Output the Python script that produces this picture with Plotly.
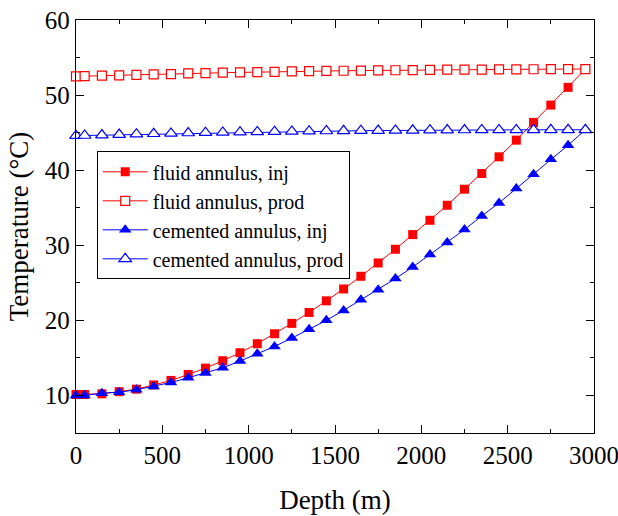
import plotly.graph_objects as go

depth = [0, 50, 150, 250, 350, 450, 550, 650, 750, 850, 950, 1050, 1150, 1250,
         1350, 1450, 1550, 1650, 1750, 1850, 1950, 2050, 2150, 2250, 2350, 2450,
         2550, 2650, 2750, 2850, 2950]

fluid_inj = [10.13, 10.13, 10.22, 10.5, 10.84, 11.4, 12.0, 12.8, 13.64, 14.62,
             15.69, 16.89, 18.22, 19.6, 21.05, 22.6, 24.18, 25.87, 27.64, 29.47,
             31.42, 33.33, 35.33, 37.47, 39.56, 41.78, 44.0, 46.36, 48.67, 51.03,
             53.47]
fluid_prod = [52.49, 52.53, 52.58, 52.62, 52.7, 52.76, 52.8, 52.88, 52.93, 52.98,
              53.02, 53.07, 53.1, 53.15, 53.2, 53.22, 53.24, 53.26, 53.29, 53.31,
              53.33, 53.35, 53.38, 53.39, 53.4, 53.42, 53.43, 53.44, 53.45, 53.46,
              53.47]
cem_inj = [10.0, 10.0, 10.31, 10.44, 10.76, 11.2, 11.73, 12.36, 12.98, 13.69,
           14.58, 15.56, 16.53, 17.64, 18.8, 20.0, 21.33, 22.76, 24.09, 25.56,
           27.11, 28.76, 30.36, 32.09, 33.91, 35.64, 37.56, 39.47, 41.47, 43.33,
           45.38]
cem_prod = [44.6, 44.62, 44.68, 44.74, 44.8, 44.85, 44.9, 44.95, 44.99, 45.03,
            45.07, 45.1, 45.13, 45.16, 45.19, 45.22, 45.24, 45.26, 45.28, 45.3,
            45.31, 45.33, 45.34, 45.35, 45.36, 45.37, 45.37, 45.38, 45.38, 45.38,
            45.38]

RED = "#ff0000"
BLUE = "#0000ff"
FONT = "'Liberation Serif', Tinos, 'Times New Roman', Times, 'DejaVu Serif', serif"

fig = go.Figure()
fig.add_trace(go.Scatter(x=depth, y=fluid_inj, name="fluid annulus, inj",
                         mode="lines+markers", line=dict(color=RED, width=1),
                         marker=dict(symbol="square", size=9, color=RED),
                         cliponaxis=False))
fig.add_trace(go.Scatter(x=depth, y=fluid_prod, name="fluid annulus, prod",
                         mode="lines+markers", line=dict(color=RED, width=1),
                         marker=dict(symbol="square", size=9, color="white",
                                     line=dict(color=RED, width=1.2)),
                         cliponaxis=False))
fig.add_trace(go.Scatter(x=depth, y=cem_inj, name="cemented annulus, inj",
                         mode="lines+markers", line=dict(color=BLUE, width=1),
                         marker=dict(symbol="triangle-up", size=11, color=BLUE),
                         cliponaxis=False))
fig.add_trace(go.Scatter(x=depth, y=cem_prod, name="cemented annulus, prod",
                         mode="lines+markers", line=dict(color=BLUE, width=1),
                         marker=dict(symbol="triangle-up", size=11, color="white",
                                     line=dict(color=BLUE, width=1.2)),
                         cliponaxis=False))

axis_common = dict(showgrid=False, zeroline=False, showline=True, linecolor="black",
                   linewidth=1.3, mirror="ticks", ticks="inside", ticklen=8,
                   tickwidth=1, tickcolor="black", automargin=False,
                   ticklabeloverflow="allow",
                   tickfont=dict(family=FONT, size=25, color="black"))

fig.update_xaxes(range=[0, 3000], tickvals=[0, 500, 1000, 1500, 2000, 2500, 3000],
                 minor=dict(ticks="inside", ticklen=4, dtick=250, tick0=0,
                            tickcolor="black"),
                 title=dict(text="Depth (m)", font=dict(family=FONT, size=27, color="black"),
                            standoff=21),
                 **axis_common)
fig.update_yaxes(range=[5, 60], tickvals=[10, 20, 30, 40, 50, 60],
                 minor=dict(ticks="inside", ticklen=4, dtick=5, tick0=5,
                            tickcolor="black"),
                 title=dict(text="Temperature (°C)", font=dict(family=FONT, size=27, color="black"),
                            standoff=8),
                 **axis_common)

fig.update_layout(
    width=618, height=516,
    margin=dict(l=76, r=24, t=20, b=83),
    plot_bgcolor="white", paper_bgcolor="white",
    font=dict(family=FONT, color="black"),
    legend=dict(x=0.04, y=0.682, xanchor="left", yanchor="top",
                bordercolor="black", borderwidth=1, bgcolor="white",
                font=dict(family=FONT, size=20, color="black"),
                itemwidth=45, tracegroupgap=0),
    showlegend=True,
)

fig.write_html("out.html", config={"displayModeBar": False},
               post_script="document.body.style.margin='0';")
